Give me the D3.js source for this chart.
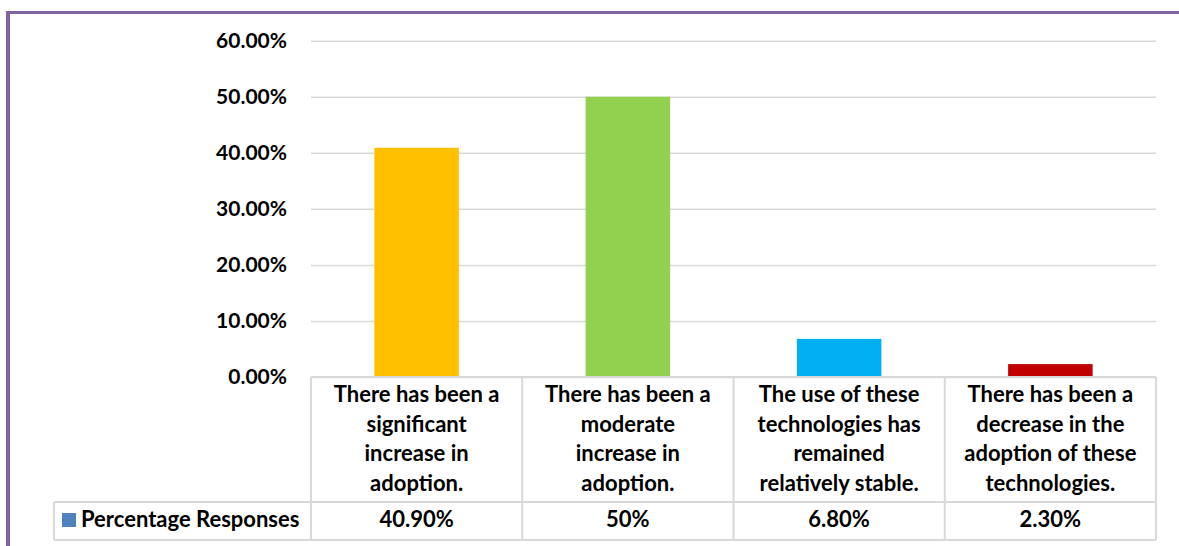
<!DOCTYPE html>
<html>
<head>
<meta charset="utf-8">
<script src="https://cdn.jsdelivr.net/npm/d3@7"></script>
<style>
  html, body { margin: 0; padding: 0; background: #fff; }
  svg { display: block; font-family: Lato, "Open Sans", sans-serif; font-weight: bold; }
</style>
</head>
<body>
<svg id="chart" width="1179" height="546"></svg>
<script>
// Survey data
const categories = [
  ["There has been a", "significant", "increase in", "adoption."],
  ["There has been a", "moderate", "increase in", "adoption."],
  ["The use of these", "technologies has", "remained", "relatively stable."],
  ["There has been a", "decrease in the", "adoption of these", "technologies."]
];
const values = [40.9, 50, 6.8, 2.3];
const valueLabels = ["40.90%", "50%", "6.80%", "2.30%"];
const barColors = ["#FFC000", "#92D050", "#00B0F0", "#C00000"];
const yTicks = [0, 10, 20, 30, 40, 50, 60];
const seriesName = "Percentage Responses";

const svg = d3.select("#chart");
const W = 1179, H = 546;

const plot = { left: 311, right: 1156, top: 40.7, bottom: 377 };
const table = { catBottom: 502, bottom: 540, legendLeft: 54 };
const gridColor = "#D9D9D9";
const fontSize = "22px";

const idx = d3.range(categories.length);
const xCol = d3.scaleBand().domain(idx).range([plot.left, plot.right]).padding(0);
const xBar = d3.scaleBand().domain(idx).range([plot.left, plot.right])
  .paddingInner(0.6).paddingOuter(0.3);
const y = d3.scaleLinear().domain([0, 60]).range([plot.bottom, plot.top]);

// Frame lines (left and top)
svg.append("rect").attr("x", 6).attr("y", 11).attr("width", W - 6).attr("height", 3).attr("fill", "#8064A2");
svg.append("rect").attr("x", 6).attr("y", 11).attr("width", 4).attr("height", H - 11).attr("fill", "#8064A2");

// Gridlines and value axis labels
const yAxis = d3.axisLeft(y).tickValues(yTicks)
  .tickSize(-(plot.right - plot.left))
  .tickFormat(d => d.toFixed(2) + "%")
  .tickPadding(24);
const gy = svg.append("g").attr("transform", `translate(${plot.left},0)`).call(yAxis);
gy.select(".domain").remove();
gy.selectAll(".tick line").attr("stroke", gridColor).attr("stroke-width", 1.5);
gy.selectAll(".tick text")
  .attr("fill", "#000")
  .style("font-size", "21px")
  .style("font-family", "Lato, sans-serif")
  .style("font-weight", "bold");

// Bars
svg.append("g").selectAll("rect").data(idx).join("rect")
  .attr("x", i => xBar(i))
  .attr("width", xBar.bandwidth())
  .attr("y", i => y(values[i]))
  .attr("height", i => y(0) - y(values[i]))
  .attr("fill", i => barColors[i]);

// Data table grid
const tg = svg.append("g").attr("stroke", gridColor).attr("stroke-width", 2).attr("fill", "none");
tg.append("line").attr("x1", plot.left).attr("x2", plot.right).attr("y1", plot.bottom).attr("y2", plot.bottom);
tg.append("line").attr("x1", table.legendLeft).attr("x2", plot.right).attr("y1", table.catBottom).attr("y2", table.catBottom);
tg.append("line").attr("x1", table.legendLeft).attr("x2", plot.right).attr("y1", table.bottom).attr("y2", table.bottom);
tg.append("line").attr("x1", table.legendLeft).attr("x2", table.legendLeft).attr("y1", table.catBottom).attr("y2", table.bottom);
[...idx, categories.length].forEach(i => {
  const xx = i < categories.length ? xCol(i) : plot.right;
  tg.append("line").attr("x1", xx).attr("x2", xx).attr("y1", plot.bottom).attr("y2", table.bottom);
});

// Category labels
const catBaselines = [402, 431.5, 461, 490.5];
const catG = svg.append("g").attr("text-anchor", "middle").style("font-size", fontSize);
idx.forEach(i => {
  categories[i].forEach((line, j) => {
    catG.append("text")
      .attr("x", xCol(i) + xCol.bandwidth() / 2)
      .attr("y", catBaselines[j])
      .text(line);
  });
});

// Value row
const valG = svg.append("g").attr("text-anchor", "middle").style("font-size", fontSize);
idx.forEach(i => {
  valG.append("text")
    .attr("x", xCol(i) + xCol.bandwidth() / 2)
    .attr("y", 527)
    .text(valueLabels[i]);
});

// Legend key + series name
svg.append("rect").attr("x", 62).attr("y", 513).attr("width", 14).attr("height", 14).attr("fill", "#4F81BD");
svg.append("text").attr("x", 81).attr("y", 527).style("font-size", fontSize).text(seriesName);
</script>
</body>
</html>
